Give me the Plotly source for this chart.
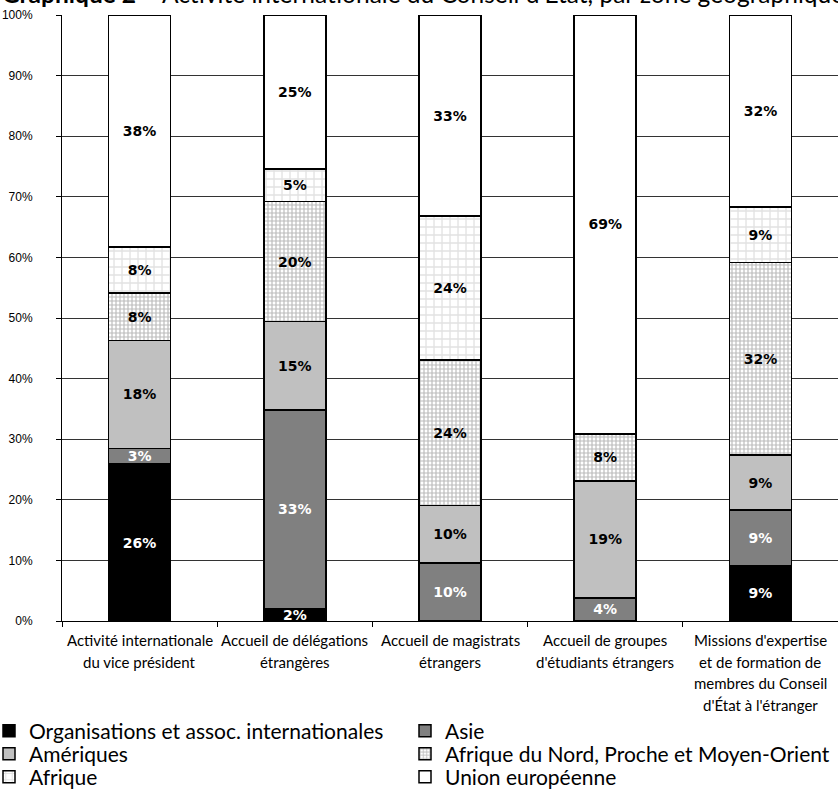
import plotly.graph_objects as go

categories = [
    "Activité internationale<br>du vice président",
    "Accueil de délégations<br>étrangères",
    "Accueil de magistrats<br>étrangers",
    "Accueil de groupes<br>d'étudiants étrangers",
    "Missions d'expertise<br>et de formation de<br>membres du Conseil<br>d'État à l'étranger",
]
series_names = [
    "Organisations et assoc. internationales",
    "Asie",
    "Amériques",
    "Afrique du Nord, Proche et Moyen-Orient",
    "Afrique",
    "Union européenne",
]
org = [25.9, 2.1, 0, 0, 9.2]
asie = [2.6, 32.7, 9.6, 3.8, 9.1]
ameriques = [17.8, 14.6, 9.5, 19.3, 9.1]
afnord = [7.8, 19.8, 24.0, 7.8, 31.8]
afrique = [7.6, 5.4, 23.7, 0, 9.1]
ue = [38.3, 25.4, 33.2, 69.1, 31.7]
y_ticks = list(range(0, 101, 10))
y_tick_labels = [f"{v}%" for v in y_ticks]
title_bold = "Graphique 2"
title_rest = " – Activité internationale du Conseil d'État, par zone géographique"

series_values = [org, asie, ameriques, afnord, afrique, ue]
styles = [
    dict(color="#000000", textcolor="#ffffff", pattern=None),
    dict(color="#808080", textcolor="#ffffff", pattern=None),
    dict(color="#c0c0c0", textcolor="#000000", pattern=None),
    dict(color="#ffffff", textcolor="#000000",
         pattern=dict(shape="+", size=4, solidity=0.5, fgcolor="#777777", bgcolor="#ffffff")),
    dict(color="#ffffff", textcolor="#000000",
         pattern=dict(shape="+", size=8, solidity=0.3, fgcolor="#c4c4c4", bgcolor="#ffffff")),
    dict(color="#ffffff", textcolor="#000000", pattern=None),
]

# legend placement (page pixels): two columns, three rows
PLOT_TOP, PLOT_BOTTOM, PLOT_LEFT, PLOT_W = 15, 621, 62, 776
legend_cols_px = [-11, 405]
legend_rows_px = [731, 754, 777]

fig = go.Figure()
legend_layouts = {}
for k, (name, vals, st) in enumerate(zip(series_names, series_values, styles)):
    marker = dict(color=st["color"], line=dict(color="#000000", width=1.5))
    if st["pattern"]:
        marker["pattern"] = st["pattern"]
    lname = "legend" if k == 0 else f"legend{k + 1}"
    fig.add_trace(go.Bar(
        x=categories, y=vals, name=name,
        marker=marker,
        text=[f"{round(v)}%" if v > 0 else "" for v in vals],
        textposition="inside", insidetextanchor="middle",
        textfont=dict(family="DejaVu Sans", size=14, color=st["textcolor"], weight="bold"),
        width=0.4,
        hoverinfo="skip",
        legend=lname,
    ))
    col, row = k % 2, k // 2
    legend_layouts[lname] = dict(
        x=(legend_cols_px[col] - PLOT_LEFT) / PLOT_W, xanchor="left",
        y=(PLOT_BOTTOM - legend_rows_px[row]) / (PLOT_BOTTOM - PLOT_TOP), yanchor="middle",
        font=dict(family="Lato", size=21, color="#000000"),
        bgcolor="rgba(0,0,0,0)", borderwidth=0,
        itemclick=False, itemdoubleclick=False,
    )

# category labels, one annotation per line
annotations = []
for cat in categories:
    for i, line in enumerate(cat.split("<br>")):
        annotations.append(dict(
            x=cat, xref="x", y=0, yref="paper", yanchor="middle",
            yshift=-(19 + 21.5 * i), text=line, showarrow=False,
            font=dict(family="Lato", size=15, color="#000000"),
        ))
annotations.append(dict(
    x=0, xref="paper", xshift=-PLOT_LEFT, xanchor="left",
    y=1, yref="paper", yanchor="bottom", yshift=5,
    text=f"<b>{title_bold}</b>{title_rest}", showarrow=False,
    font=dict(family="Lato", size=24.5, color="#000000"),
))

fig.update_layout(
    width=838, height=789,
    margin=dict(l=PLOT_LEFT, r=838 - PLOT_LEFT - PLOT_W, t=PLOT_TOP, b=789 - PLOT_BOTTOM,
                autoexpand=False),
    barmode="stack",
    paper_bgcolor="#ffffff", plot_bgcolor="#ffffff",
    uniformtext=dict(mode="show", minsize=14),
    showlegend=True,
    annotations=annotations,
    xaxis=dict(
        showticklabels=False, tickson="boundaries", ticks="outside", ticklen=5,
        tickcolor="#000000", showline=True, linecolor="#000000", linewidth=1,
        showgrid=False, range=[-0.5, 4.5],
    ),
    yaxis=dict(
        range=[0, 100], tickmode="array", tickvals=y_ticks, ticktext=y_tick_labels,
        ticks="outside", ticklen=5, tickcolor="#000000",
        showline=True, linecolor="#000000", linewidth=1,
        showgrid=True, gridcolor="#333333", gridwidth=1,
        tickfont=dict(family="Liberation Sans", size=12, color="#000000"),
        ticklabelstandoff=21, zeroline=False,
    ),
    **legend_layouts,
)

fig.write_html("out.html", config={"displayModeBar": False},
               post_script="document.body.style.margin='0';")
